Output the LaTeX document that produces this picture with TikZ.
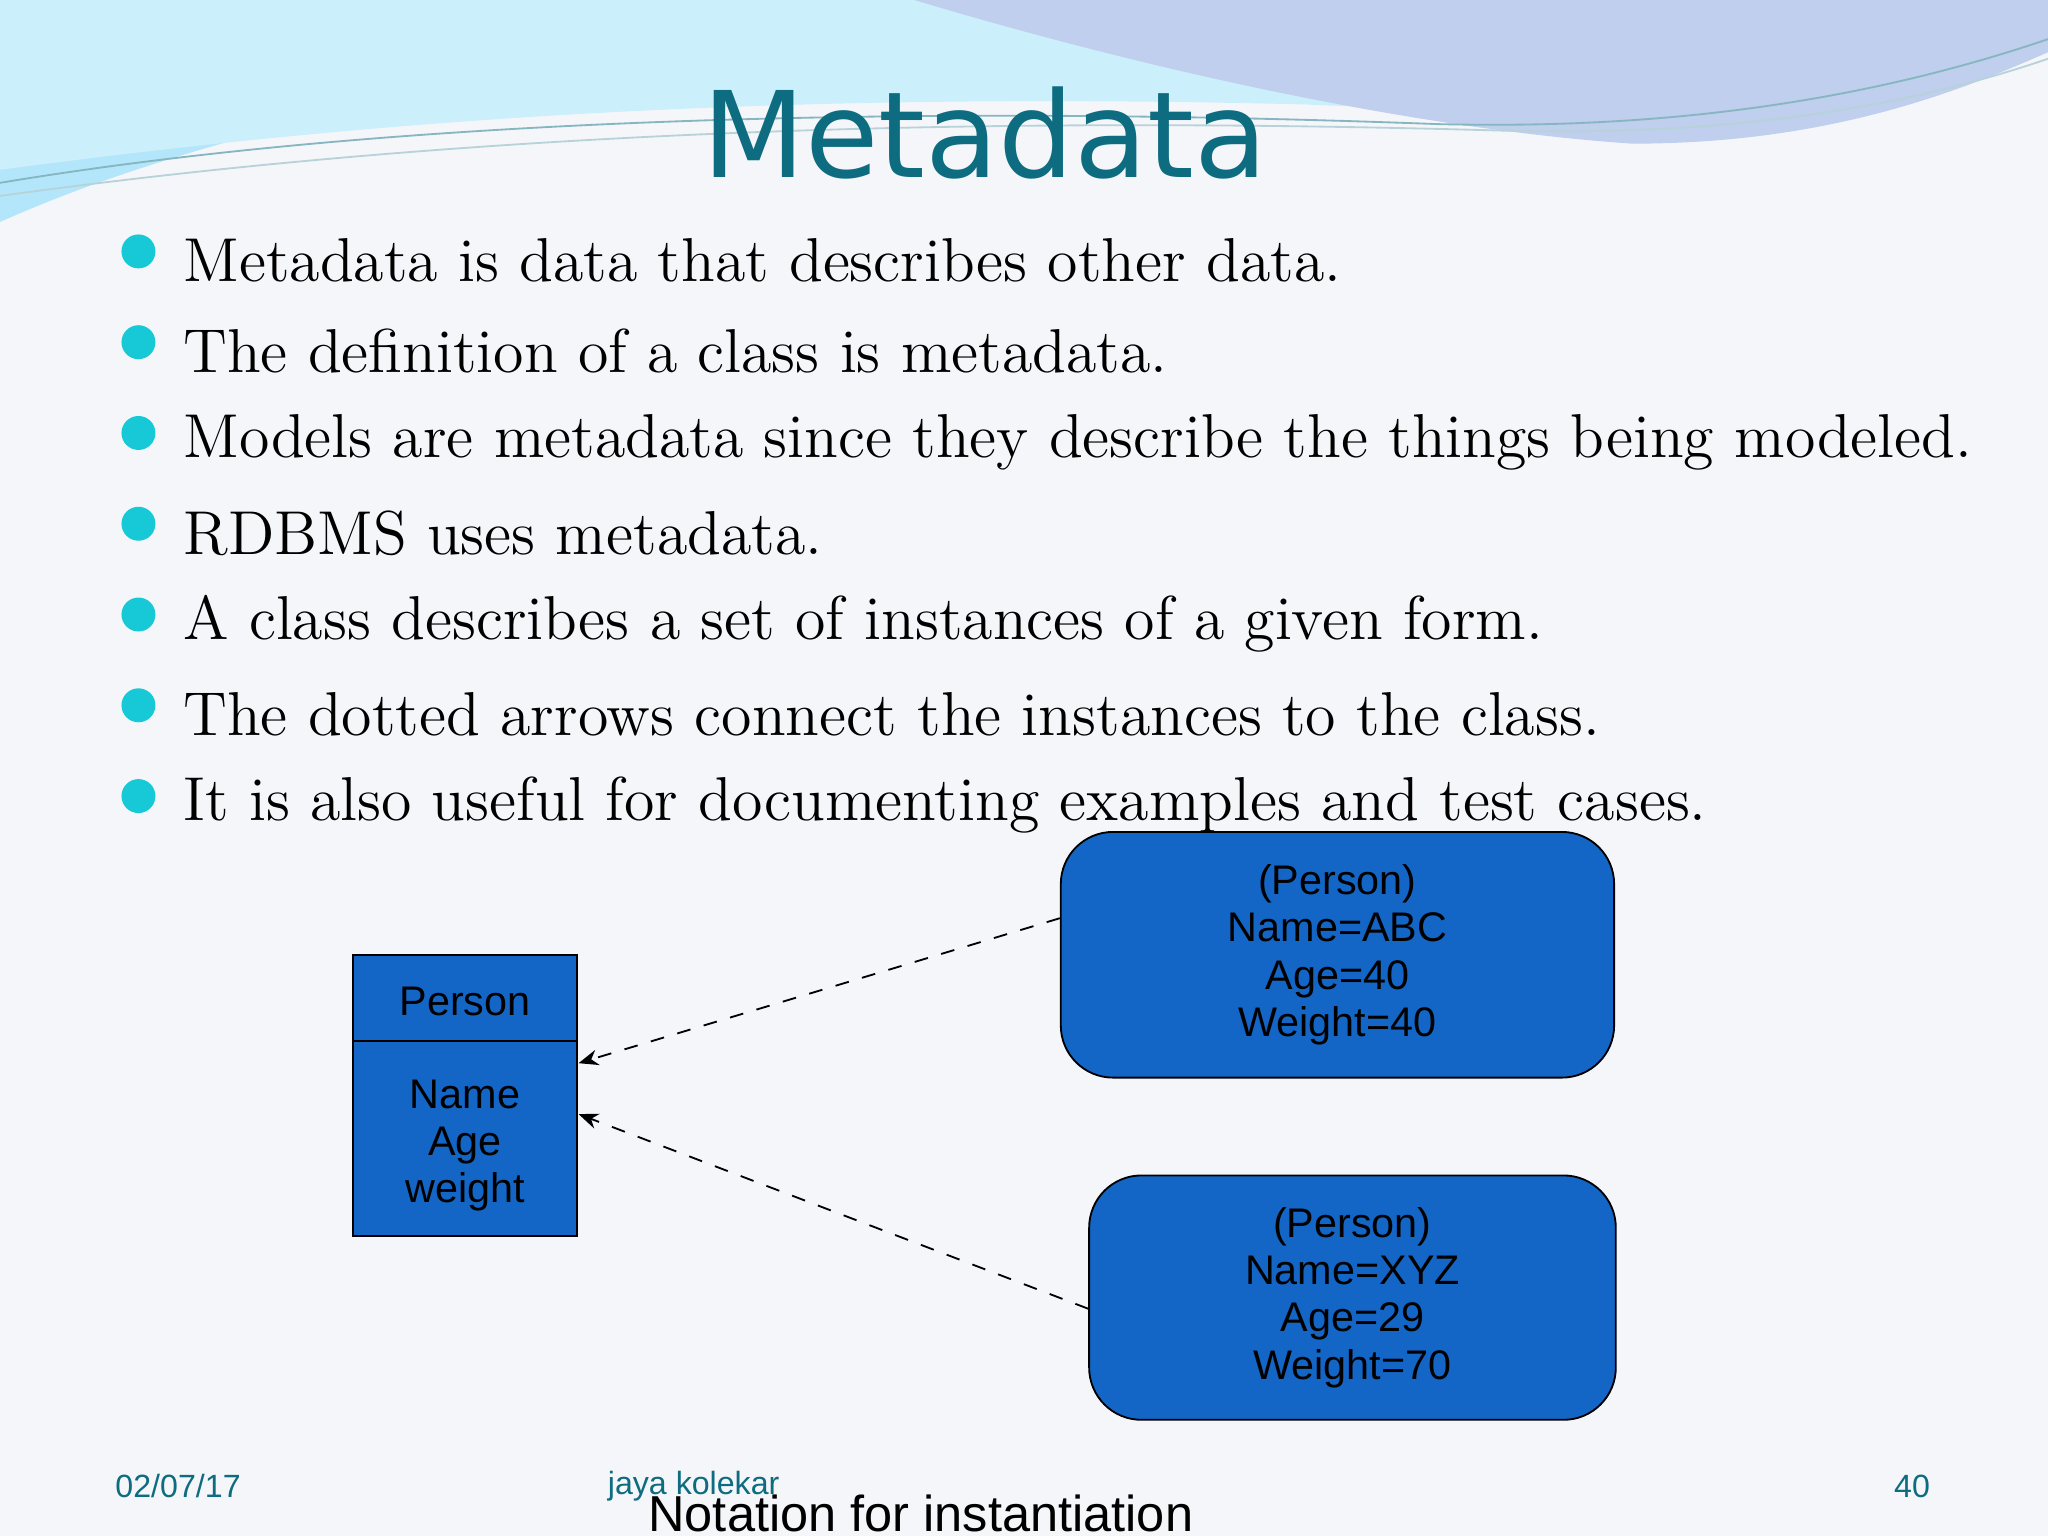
\documentclass[tikz,border=0pt]{standalone}
\usepackage{fontspec}
\setsansfont{Liberation Sans}
\newfontfamily\titlefont{DejaVu Sans}
\usetikzlibrary{arrows.meta}
\definecolor{teal1}{HTML}{0E6C80}
\definecolor{boxblue}{HTML}{1466C6}
\definecolor{bul}{HTML}{17C9D6}
\definecolor{bg}{HTML}{F5F6FA}
\begin{document}
\begin{tikzpicture}[x=0.01cm,y=-0.01cm,
  inst/.style={draw=black,fill=boxblue,rounded corners=0.4cm,font=\sffamily\fontsize{9}{10.3}\selectfont,align=center},
  bultext/.style={anchor=west,font=\fontsize{13.5}{15}\selectfont},
  dot/.style={circle,fill=bul,inner sep=0pt,minimum size=0.26cm},
  foot/.style={font=\sffamily\fontsize{7}{8}\selectfont,text=teal1},
  link/.style={dashed,-{Stealth[length=0.15cm,width=0.12cm]},thin}]
\useasboundingbox (0,0) rectangle (1568,1176);
\fill[bg] (0,0) rectangle (1568,1176);
% top waves
\fill[cyan!30!white] (0,0) -- (700,0) .. controls (500,40) and (200,80) .. (0,170) -- cycle;
\fill[cyan!20!white] (0,0) -- (0,130) .. controls (300,90) and (600,70) .. (1000,80) .. controls (1200,90) and (1400,60) .. (1568,20) -- (1568,0) -- cycle;
\fill[cyan!50!blue!25!white] (700,0) .. controls (900,60) and (1100,100) .. (1250,110) .. controls (1400,110) and (1500,70) .. (1568,40) -- (1568,0) -- cycle;
\draw[teal1!50,thin] (0,140) .. controls (300,90) and (700,80) .. (1100,95) .. controls (1300,100) and (1450,70) .. (1568,30);
\draw[teal1!30,thin] (0,150) .. controls (400,95) and (800,90) .. (1150,100) .. controls (1350,105) and (1480,75) .. (1568,45);
\node[font=\titlefont\fontsize{26}{30}\selectfont,text=teal1] (title) at (754,102) {Metadata};
% bullets
\foreach \t [count=\i] in {Metadata is data that describes other data.,
  The definition of a class is metadata.,
  Models are metadata since they describe the things being modeled.,
  RDBMS uses metadata.,
  A class describes a set of instances of a given form.,
  The dotted arrows connect the instances to the class.,
  It is also useful for documenting examples and test cases.}{
  \node[dot] (d\i) at (106,{123+69.5*\i}) {};
  \node[bultext] (b\i) at (128,{130+69.5*\i}) {\t};
}
% class box
\draw[fill=boxblue] (270,731) rectangle (442,946);
\draw (270,797) -- (442,797);
\node[font=\sffamily\fontsize{9}{10.3}\selectfont] (cls) at (356,767) {Person};
\node[font=\sffamily\fontsize{9}{10.3}\selectfont,align=center] (attrs) at (356,877) {Name\\Age\\weight};
\coordinate (c1) at (443,814);
\coordinate (c2) at (443,853);
\node[inst,minimum width=4.04cm,minimum height=1.88cm] (i1) at (1024,731) {\raisebox{0.2cm}{\parbox{4cm}{\centering(Person)\\Name=ABC\\Age=40\\Weight=40}}};
\node[inst,minimum width=4.03cm,minimum height=1.87cm] (i2) at (1035.5,993.5) {(Person)\\Name=XYZ\\Age=29\\Weight=70};
\draw[link] (i1.west |- 0,703) -- (c1);
\draw[link] (i2.west |- 0,1002) -- (c2);
% footer
\node[foot,anchor=west] (date) at (76,1138) {02/07/17};
\node[foot,anchor=west] (auth) at (453,1138) {jaya kolekar};
\node[foot,anchor=east] (pg) at (1490,1138) {40};
\node[font=\sffamily\fontsize{11}{12}\selectfont,anchor=west] (cap) at (484,1159) {Notation for instantiation};
\end{tikzpicture}
\end{document}
